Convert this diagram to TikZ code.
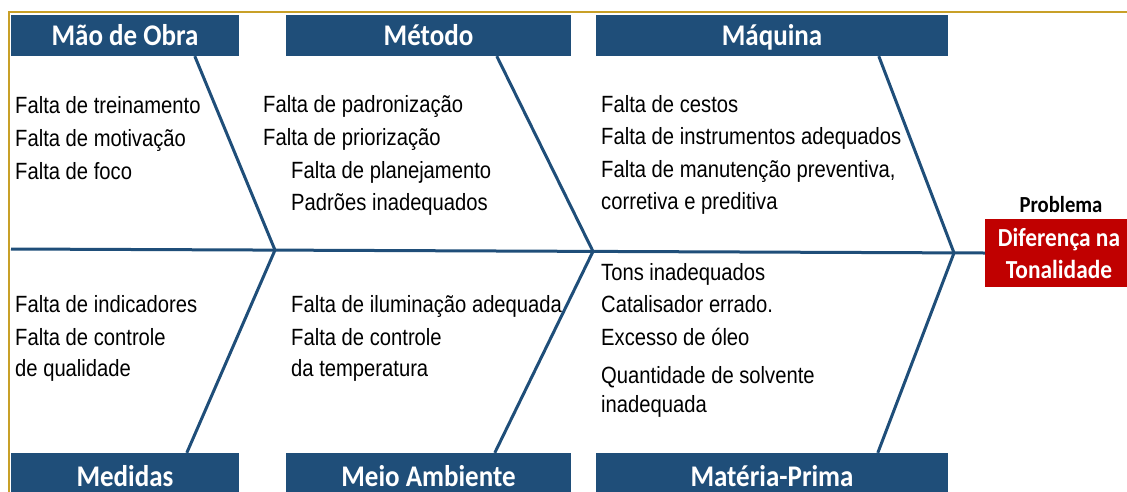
\documentclass[tikz,border=0pt]{standalone}
\usepackage{fontspec}
\setmainfont{Liberation Sans}
\newfontfamily\bodyfont[FakeStretch=0.86]{Liberation Sans}
\newfontfamily\hdrfont[FakeStretch=0.9]{Carlito}
\definecolor{bonecol}{RGB}{31,78,121}
\definecolor{hdrcol}{RGB}{31,78,121}
\definecolor{probred}{RGB}{192,0,0}
\definecolor{framegold}{RGB}{200,160,40}
\begin{document}
\begin{tikzpicture}[x=1pt,y=-1pt,
  hdr/.style={fill=hdrcol, text=white, font=\hdrfont\bfseries\fontsize{30}{34}\selectfont, inner sep=0pt, minimum height=41pt, text height=25pt, text depth=6pt},
  hdrb/.style={hdr, text height=28pt, text depth=3pt},
  item/.style={anchor=base west, inner sep=0pt, font=\bodyfont\fontsize{23.5}{27}\selectfont, text=black},
  bone/.style={draw=bonecol, line width=3pt, line join=round}]
\useasboundingbox (0,0) rectangle (1127,491);
\clip (0,0) rectangle (1127,491);
% frame
\draw[framegold, line width=2pt] (9,495) -- (9,12) -- (1130,12);
% category boxes
\node[hdr, minimum width=228pt] (mo)  at (125,35.5)  {Mão de Obra};
\node[hdr, minimum width=285pt] (met) at (428.5,35.5) {Método};
\node[hdr, minimum width=352pt] (maq) at (772,35.5)  {Máquina};
\node[hdrb, minimum width=228pt] (med) at (125,473.5) {Medidas};
\node[hdrb, minimum width=285pt] (mei) at (428.5,473.5) {Meio Ambiente};
\node[hdrb, minimum width=352pt] (mat) at (772,473.5) {Matéria-Prima};
% problem
\node[fill=probred, text=white, font=\hdrfont\bfseries\fontsize{26}{32}\selectfont, minimum width=148pt, minimum height=68pt, inner sep=0pt, align=center] (prob) at (1059,253) {Diferença na\\Tonalidade};
\node[anchor=base, inner sep=0pt, font=\hdrfont\bfseries\fontsize{23}{26}\selectfont] (plabel) at (1061,212) {Problema};
% spine and bones
\coordinate (s0) at (11,249);
\coordinate (j1) at (275,250.1);
\coordinate (j2) at (593,251.4);
\coordinate (j3) at (954,252.9);
\draw[bone] (s0) -- (prob.west);
\draw[bone] ([xshift=184pt]mo.south west) -- (j1) -- ([xshift=176pt]med.north west);
\draw[bone] ([xshift=211pt]met.south west) -- (j2) -- ([xshift=209pt]mei.north west);
\draw[bone] ([xshift=283pt]maq.south west) -- (j3) -- ([xshift=282pt]mat.north west);
% Mão de Obra
\node[item] (a1) at (15,113) {Falta de treinamento};
\node[item] (a2) at (15,146) {Falta de motivação};
\node[item] (a3) at (15,179) {Falta de foco};
% Método
\node[item] (b1) at (263,112) {Falta de padronização};
\node[item] (b2) at (263,145) {Falta de priorização};
\node[item] (b3) at (291,178) {Falta de planejamento};
\node[item] (b4) at (291,210) {Padrões inadequados};
% Máquina
\node[item] (c1) at (601,112) {Falta de cestos};
\node[item] (c2) at (601,144) {Falta de instrumentos adequados};
\node[item] (c3) at (601,177) {Falta de manutenção preventiva,};
\node[item] (c4) at (601,209) {corretiva e preditiva};
% Medidas
\node[item] (d1) at (15,312) {Falta de indicadores};
\node[item] (d2) at (15,345) {Falta de controle};
\node[item] (d3) at (15,376) {de qualidade};
% Meio Ambiente
\node[item] (e1) at (291,312) {Falta de iluminação adequada};
\node[item] (e2) at (291,345) {Falta de controle};
\node[item] (e3) at (291,376) {da temperatura};
% Matéria-Prima
\node[item] (f1) at (601,280) {Tons inadequados};
\node[item] (f2) at (601,312) {Catalisador errado.};
\node[item] (f3) at (601,345) {Excesso de óleo};
\node[item] (f4) at (601,383) {Quantidade de solvente};
\node[item] (f5) at (601,412) {inadequada};
\end{tikzpicture}
\end{document}
